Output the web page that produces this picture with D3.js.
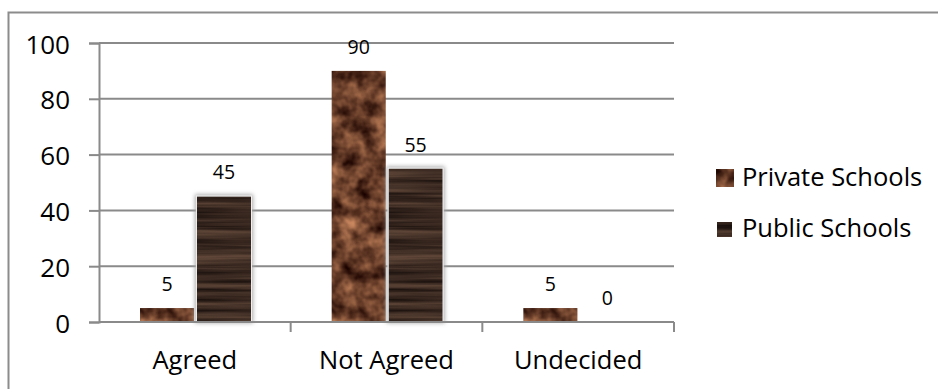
<!DOCTYPE html>
<html>
<head>
<meta charset="utf-8">
<script src="https://cdn.jsdelivr.net/npm/d3@7"></script>
<style>
  html, body { margin: 0; padding: 0; background: #fff; }
  svg { display: block; }
  text { font-family: "Open Sans", "DejaVu Sans", sans-serif; fill: #000; }
</style>
</head>
<body>
<svg id="chart" width="938" height="389"></svg>
<script>
// Survey responses by school type
const categories = ["Agreed", "Not Agreed", "Undecided"];
const seriesNames = ["Private Schools", "Public Schools"];
const privateValues = [5, 90, 5];
const publicValues = [45, 55, 0];
const yTicks = [0, 20, 40, 60, 80, 100];

const W = 938, H = 389;
const plot = { left: 99, right: 674, top: 43, bottom: 322 };

const svg = d3.select("#chart");
const defs = svg.append("defs");

// Mottled brown texture for the private series
const fPriv = defs.append("filter").attr("id", "texPrivate")
  .attr("color-interpolation-filters", "sRGB")
  .attr("x", 0).attr("y", 0).attr("width", 1).attr("height", 1);
fPriv.append("feTurbulence").attr("type", "fractalNoise")
  .attr("baseFrequency", "0.06").attr("numOctaves", 3).attr("seed", 7).attr("result", "n");
fPriv.append("feColorMatrix").attr("in", "n").attr("type", "matrix")
  .attr("values", "0.95 0 0 0 -0.07  0.72 0 0 0 -0.12  0.52 0 0 0 -0.1  0 0 0 0 1")
  .attr("result", "c");
fPriv.append("feComposite").attr("in", "c").attr("in2", "SourceGraphic").attr("operator", "in");

// Dark wood-grain texture for the public series
const fPub = defs.append("filter").attr("id", "texPublic")
  .attr("color-interpolation-filters", "sRGB")
  .attr("x", 0).attr("y", 0).attr("width", 1).attr("height", 1);
fPub.append("feTurbulence").attr("type", "fractalNoise")
  .attr("baseFrequency", "0.006 0.2").attr("numOctaves", 3).attr("seed", 4).attr("result", "n");
fPub.append("feColorMatrix").attr("in", "n").attr("type", "matrix")
  .attr("values", "0.45 0 0 0 0.02  0.35 0 0 0 0  0.28 0 0 0 0  0 0 0 0 1")
  .attr("result", "c");
fPub.append("feComposite").attr("in", "c").attr("in2", "SourceGraphic").attr("operator", "in");

// Soft glow behind the public bars
const fGlow = defs.append("filter").attr("id", "glow")
  .attr("x", -0.3).attr("y", -0.3).attr("width", 1.6).attr("height", 1.6);
fGlow.append("feGaussianBlur").attr("stdDeviation", 2);

// Chart frame (right and bottom edges run off the canvas)
svg.append("rect")
  .attr("x", 8.5).attr("y", 12.5).attr("width", W).attr("height", H)
  .attr("fill", "#fff").attr("stroke", "#8c8c8c").attr("stroke-width", 2);

const x = d3.scaleBand().domain(categories).range([plot.left, plot.right]).padding(0);
const xSub = d3.scaleBand().domain(seriesNames).range([41, 152]).paddingInner(0.05);
const y = d3.scaleLinear().domain([0, 100]).range([plot.bottom, plot.top]);

// Horizontal gridlines and left tick marks
const gridColor = "#8a8a8a";
svg.append("g").selectAll("line").data(yTicks.filter(d => d > 0)).join("line")
  .attr("x1", plot.left).attr("x2", plot.right)
  .attr("y1", d => y(d)).attr("y2", d => y(d))
  .attr("stroke", gridColor).attr("stroke-width", 2);

const yAxis = d3.axisLeft(y).tickValues(yTicks).tickSize(10).tickPadding(19).tickFormat(d3.format("d"));
const gy = svg.append("g").attr("transform", `translate(${plot.left},0)`).call(yAxis);
gy.select(".domain").attr("stroke", gridColor).attr("stroke-width", 2);
gy.selectAll(".tick line").attr("stroke", gridColor).attr("stroke-width", 2);
gy.selectAll(".tick text").attr("font-size", 26).attr("font-family", null)
  .attr("dy", null).attr("dominant-baseline", "central");

// Bars
const rows = categories.map((c, i) => ({ cat: c, vals: [privateValues[i], publicValues[i]] }));
const groups = svg.append("g").selectAll("g").data(rows).join("g")
  .attr("transform", d => `translate(${x(d.cat)},0)`);

groups.each(function (d) {
  const g = d3.select(this);
  seriesNames.forEach((s, si) => {
    const v = d.vals[si];
    const bx = xSub(s), bw = xSub.bandwidth();
    if (v > 0) {
      if (si === 1) {
        g.append("rect")
          .attr("x", bx - 2).attr("y", y(v) - 2)
          .attr("width", bw + 4).attr("height", y(0) - y(v) + 3)
          .attr("fill", "#a9a9a9").attr("filter", "url(#glow)");
      }
      g.append("rect")
        .attr("x", bx).attr("y", y(v))
        .attr("width", bw).attr("height", y(0) - y(v))
        .attr("fill", "#000")
        .attr("filter", si === 0 ? "url(#texPrivate)" : "url(#texPublic)");
      if (si === 1) {
        g.append("rect")
          .attr("x", bx - 0.5).attr("y", y(v) - 0.5)
          .attr("width", bw + 1).attr("height", y(0) - y(v) + 0.5)
          .attr("fill", "none").attr("stroke", "#f0f0f0").attr("stroke-width", 1);
      }
    }
    g.append("text")
      .attr("x", bx + bw / 2).attr("y", y(v) - 17)
      .attr("text-anchor", "middle").attr("font-size", 19.5)
      .text(v);
  });
});

// X axis with category dividers
const xAxis = d3.axisBottom(x).tickSize(0).tickPadding(0);
const gx = svg.append("g").attr("transform", `translate(0,${plot.bottom})`).call(xAxis);
gx.select(".domain").attr("stroke", gridColor).attr("stroke-width", 2).attr("d", `M${plot.left},0H${plot.right}`);
gx.selectAll(".tick text").remove();
svg.append("g").selectAll("line").data(categories.slice(1).map(c => x(c)).concat([plot.right])).join("line")
  .attr("x1", d => d).attr("x2", d => d)
  .attr("y1", plot.bottom).attr("y2", plot.bottom + 10)
  .attr("stroke", gridColor).attr("stroke-width", 2);
svg.append("g").selectAll("text").data(categories).join("text")
  .attr("x", d => x(d) + x.bandwidth() / 2).attr("y", 369)
  .attr("text-anchor", "middle").attr("font-size", 25.5)
  .text(d => d);

// Legend
const legend = svg.append("g");
const legendRows = [
  { name: seriesNames[0], filter: "url(#texPrivate)", sq: [716, 169, 18, 18], base: 186 },
  { name: seriesNames[1], filter: "url(#texPublic)", sq: [717, 222, 15, 15], base: 237 }
];
legendRows.forEach(r => {
  legend.append("rect")
    .attr("x", r.sq[0]).attr("y", r.sq[1]).attr("width", r.sq[2]).attr("height", r.sq[3])
    .attr("fill", "#000").attr("filter", r.filter);
  legend.append("text").attr("x", 742).attr("y", r.base).attr("font-size", 25.5).text(r.name);
});
</script>
</body>
</html>
